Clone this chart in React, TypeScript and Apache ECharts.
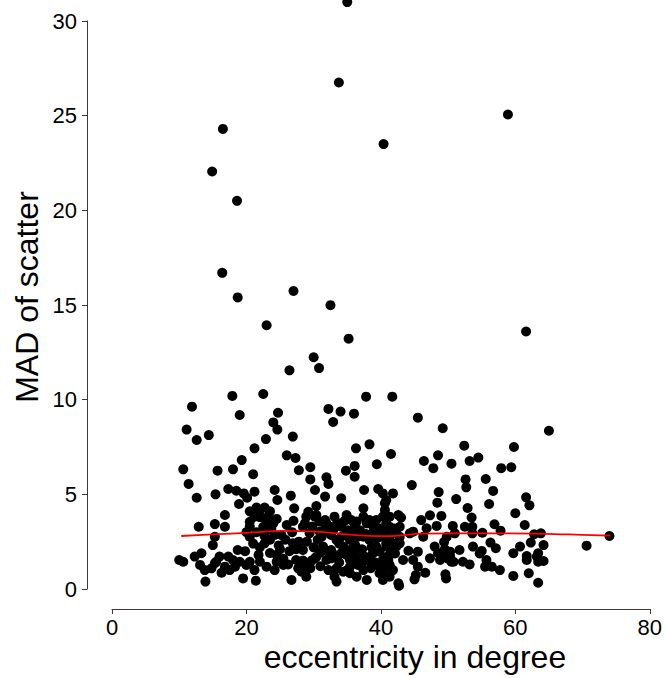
import React, { useEffect, useRef } from 'react';
import * as echarts from 'echarts';

const xTicks = [0, 20, 40, 60, 80];
const yTicks = [0, 5, 10, 15, 20, 25, 30];
const xTitle = 'eccentricity in degree';
const yTitle = 'MAD of scatter';

// [eccentricity, MAD]
const outlierPoints: number[][] = [
  [35.0, 31.0], [33.75, 26.75], [58.9, 25.06], [16.5, 24.3], [40.4, 23.5], [14.9, 22.05],
  [18.6, 20.5], [16.4, 16.7], [18.7, 15.4], [27.0, 15.74], [32.5, 14.99], [23.0, 13.93],
  [35.2, 13.22], [61.6, 13.6], [30.0, 12.24], [30.8, 11.67], [26.4, 11.55],
];

const upperLeftPoints: number[][] = [
  [11.9, 9.63], [17.9, 10.2], [22.5, 10.3], [19.0, 9.19], [24.7, 9.31], [24.0, 8.8], [24.6, 8.42],
  [11.1, 8.42], [12.6, 7.87], [14.4, 8.13], [22.9, 7.92], [26.9, 8.05], [21.2, 7.43], [19.3, 6.81],
  [26.0, 7.06], [27.3, 6.92], [10.6, 6.32], [15.7, 6.25], [18.0, 6.32], [21.0, 6.06], [27.8, 6.27],
  [29.5, 6.43], [11.4, 5.55], [29.5, 5.79], [31.9, 5.9], [32.2, 5.55], [12.6, 4.82], [15.4, 5.0],
  [17.3, 5.28], [18.5, 5.19], [19.6, 5.05], [20.1, 4.82], [21.2, 5.14], [18.9, 4.49], [24.2, 5.23],
  [24.6, 4.7], [26.6, 4.93], [27.1, 4.26], [30.2, 5.23], [30.4, 4.38], [31.7, 4.88], [34.1, 4.79],
  [34.8, 6.25], [36.1, 6.5], [36.1, 5.93], [36.3, 7.43], [38.3, 7.64], [39.4, 6.59], [41.5, 7.13],
  [32.2, 9.51], [34.0, 9.37], [36.0, 9.26], [32.9, 8.82], [37.8, 10.16], [41.7, 10.16], [37.5, 5.23],
  [39.6, 5.28], [12.9, 3.29], [15.3, 3.43], [16.8, 3.91], [16.8, 3.29],
];

const lowerLeftPoints: number[][] = [
  [10.6, 1.44], [10.0, 1.53], [12.3, 1.71], [13.3, 1.89], [13.1, 1.27], [13.8, 1.0], [13.9, 0.39],
  [14.8, 1.09], [15.5, 1.44], [16.3, 0.86], [15.0, 2.32], [15.3, 2.76], [17.3, 1.71], [18.7, 2.06],
  [19.0, 1.44], [19.5, 0.56], [20.5, 2.76], [21.2, 1.0], [21.4, 0.44], [20.5, 3.55], [21.2, 3.82],
  [21.9, 4.08], [22.5, 3.29], [22.7, 2.41], [23.2, 3.82], [24.0, 3.47], [24.5, 1.8], [24.5, 1.44],
  [25.2, 2.85], [26.0, 3.38], [26.7, 0.48], [26.9, 2.41], [27.4, 1.53], [28.4, 2.06], [28.7, 3.47],
  [28.7, 0.91], [28.9, 3.82], [29.4, 2.94], [30.2, 1.62], [30.4, 3.91], [30.9, 3.03], [31.4, 2.24],
  [31.7, 3.64], [32.4, 3.29], [32.6, 1.62], [33.1, 0.65], [33.4, 0.39], [33.4, 2.59], [34.4, 2.24],
  [34.9, 3.91], [35.4, 1.53], [35.4, 1.18], [36.1, 3.29], [36.4, 2.06], [36.6, 2.76], [37.4, 4.26],
  [37.6, 1.71], [37.9, 0.48], [38.3, 3.64], [38.9, 3.03], [39.3, 2.24], [39.8, 1.18], [40.3, 0.48],
  [40.6, 4.17], [40.8, 4.7], [41.3, 3.29], [41.8, 1.89], [42.6, 0.3],
];

const denseCorePoints: number[][] = [
  [20.5, 4.1], [21.5, 4.3], [22.7, 4.3], [23.5, 4.1], [22.0, 3.8], [23.0, 3.6], [24.5, 3.7],
  [20.5, 3.3], [21.5, 3.0], [23.0, 3.1], [23.7, 3.2], [22.7, 2.8], [23.5, 2.6], [24.2, 2.85],
  [22.0, 2.2], [23.5, 1.9], [25.0, 2.1], [25.5, 1.6], [26.4, 2.0], [27.4, 2.1], [28.4, 1.5],
  [28.9, 1.3], [29.7, 1.5], [30.4, 1.7], [30.9, 1.9], [31.9, 1.53], [32.6, 2.06], [33.1, 1.8],
  [34.1, 1.88], [34.9, 1.8], [35.4, 2.06], [35.9, 1.53], [36.6, 1.27], [37.4, 1.44], [38.3, 1.53],
  [38.8, 1.88], [39.8, 1.97], [40.3, 1.53], [41.3, 1.27], [41.8, 1.0], [42.3, 2.24], [42.8, 2.76],
  [28.4, 3.29], [29.2, 4.08], [30.2, 3.82], [30.9, 3.56], [31.9, 3.47], [33.1, 3.82], [34.1, 3.29],
  [34.9, 2.94], [35.6, 3.64], [36.4, 3.56], [37.4, 3.82], [37.9, 3.47], [39.3, 3.64], [40.3, 3.82],
  [41.3, 3.82], [42.6, 3.91], [40.3, 2.76], [40.8, 2.41], [37.4, 2.76], [38.3, 2.59], [35.4, 2.59],
  [34.1, 2.76], [32.6, 2.85], [31.2, 2.76], [33.4, 1.09], [34.4, 0.91], [35.4, 0.83], [36.4, 0.65],
  [37.4, 1.0], [39.8, 0.83], [40.3, 1.09], [41.3, 0.65], [18.0, 1.53], [18.3, 1.18], [20.0, 1.27],
  [20.5, 1.44], [22.0, 1.44], [23.0, 1.18], [24.2, 1.0], [25.5, 1.27], [27.7, 1.09], [28.2, 0.91],
  [28.9, 0.65], [15.3, 1.36], [16.0, 1.71], [16.8, 1.18], [17.5, 1.0],
];

const denseCoreExtraPoints: number[][] = [
  [29.0, 2.5], [29.8, 3.3], [30.6, 2.6], [31.5, 3.1], [32.0, 2.0], [32.9, 3.1], [33.5, 3.5],
  [33.8, 2.4], [34.6, 3.6], [35.1, 3.1], [35.8, 2.9], [36.2, 2.3], [36.9, 3.1], [37.2, 2.1],
  [37.8, 2.9], [38.6, 2.2], [38.9, 3.3], [39.5, 2.7], [39.9, 3.2], [40.7, 3.0], [41.5, 2.0],
  [42.0, 3.2], [30.0, 2.2], [31.0, 1.2], [32.2, 1.0], [33.8, 1.4], [35.0, 1.0], [36.0, 1.8],
  [37.0, 1.6], [38.5, 1.1], [39.2, 1.4], [40.9, 1.7], [29.5, 1.1], [27.8, 2.5], [26.8, 3.0],
  [27.0, 3.6], [25.8, 2.6], [26.2, 1.3], [24.8, 2.3], [21.0, 2.4], [21.8, 1.8], [19.8, 2.0],
  [20.0, 3.0], [49.5, 2.1], [50.0, 1.6], [48.5, 1.9],
];

const rightPoints: number[][] = [
  [45.5, 9.05], [49.2, 8.49], [65.0, 8.36], [52.4, 7.57], [59.8, 7.5], [46.4, 6.76], [48.5, 7.06],
  [50.5, 6.62], [53.2, 6.76], [54.5, 6.94], [47.8, 6.38], [57.9, 6.38], [59.4, 6.43], [52.6, 5.79],
  [52.7, 5.37], [55.6, 5.81], [44.6, 5.49], [48.6, 5.12], [56.7, 5.18], [51.2, 4.75], [61.6, 4.84],
  [62.1, 4.42], [48.4, 4.56], [56.1, 4.49], [52.9, 4.28], [60.0, 4.0], [53.5, 3.77], [43.0, 3.77],
  [47.3, 3.89], [49.0, 3.86], [46.0, 3.64], [61.4, 3.38], [56.9, 3.42], [48.3, 3.33], [50.7, 3.33],
  [53.6, 3.29], [57.8, 3.08], [46.8, 3.21], [55.1, 2.97], [53.6, 2.94], [62.8, 2.89], [63.8, 2.94],
  [74.0, 2.8], [70.6, 2.29], [64.2, 2.32], [62.3, 2.45], [49.4, 2.48], [53.7, 2.24], [56.3, 2.45],
  [57.1, 2.15], [55.0, 2.01], [59.7, 1.89], [61.7, 1.74], [63.4, 1.89], [63.4, 1.44], [64.2, 1.48],
  [44.1, 2.02], [45.5, 1.97], [47.3, 1.62], [49.0, 1.8], [49.8, 1.8], [50.3, 1.97], [50.5, 1.44],
  [52.2, 1.44], [53.2, 1.3], [55.5, 1.18], [56.5, 1.18], [57.7, 1.0], [59.7, 0.69], [62.0, 0.83],
  [63.4, 0.33], [46.6, 0.86], [45.2, 0.74], [45.0, 0.51], [49.6, 0.78], [49.7, 0.56], [42.7, 0.17],
  [40.4, 0.99], [41.1, 1.53], [41.8, 2.41], [42.8, 2.41], [42.3, 2.94], [42.8, 3.29], [44.3, 2.94],
  [44.8, 3.03], [46.3, 2.76], [40.6, 4.53], [40.3, 5.05], [41.8, 5.05],
  [49.3, 1.88], [50.3, 1.71], [48.8, 1.53], [50.8, 1.44], [40.8, 3.47], [41.3, 2.76], [40.8, 2.24],
  [42.1, 1.88], [41.3, 1.18], [40.6, 0.65], [43.3, 1.53], [44.8, 1.53], [45.5, 1.18], [48.0, 2.24],
  [51.7, 2.06], [52.5, 3.29], [49.8, 2.76], [51.0, 2.94], [54.7, 1.88], [55.7, 1.53], [61.7, 1.53],
  [63.2, 1.71], [60.7, 2.24],
];

const smoothX = [10.3, 15, 20.5, 25.5, 30.4, 35.4, 40.3, 42.8, 45.8, 50, 54.7, 62.7, 68, 74.1];
const smoothY = [2.8, 2.88, 2.98, 3.07, 3.03, 2.87, 2.79, 2.82, 2.92, 2.94, 2.94, 2.92, 2.88, 2.82];

export default function App() {
  const ref = useRef<HTMLDivElement>(null);
  useEffect(() => {
    document.body.style.margin = '0';
    const chart = echarts.init(ref.current as HTMLDivElement, null, { renderer: 'svg' });
    const font = "'Liberation Sans', Arial, Helvetica, sans-serif";
    const axisColor = '#3a3a3a';
    const allPoints = [
      ...outlierPoints,
      ...upperLeftPoints,
      ...lowerLeftPoints,
      ...denseCorePoints,
      ...denseCoreExtraPoints,
      ...rightPoints,
    ];
    chart.setOption({
      animation: false,
      backgroundColor: '#ffffff',
      grid: { left: 112, right: 15, top: 21, bottom: 89 },
      xAxis: {
        type: 'value',
        min: xTicks[0],
        max: xTicks[xTicks.length - 1],
        interval: xTicks[1] - xTicks[0],
        offset: 20,
        axisLine: { show: true, onZero: false, lineStyle: { color: axisColor, width: 1 } },
        axisTick: { show: true, length: 5, lineStyle: { color: axisColor, width: 1 } },
        axisLabel: { color: '#000', fontSize: 22, fontFamily: font, margin: 7 },
        splitLine: { show: false },
      },
      yAxis: {
        type: 'value',
        min: yTicks[0],
        max: yTicks[yTicks.length - 1],
        interval: yTicks[1] - yTicks[0],
        offset: 25,
        axisLine: { show: true, onZero: false, lineStyle: { color: axisColor, width: 1 } },
        axisTick: { show: true, length: 5, lineStyle: { color: axisColor, width: 1 } },
        axisLabel: { color: '#000', fontSize: 22, fontFamily: font, margin: 10 },
        splitLine: { show: false },
      },
      series: [
        {
          type: 'scatter',
          data: allPoints,
          symbol: 'circle',
          symbolSize: 10,
          clip: false,
          itemStyle: { color: '#000', opacity: 1 },
        },
        {
          type: 'line',
          data: smoothX.map((x, i) => [x, smoothY[i]]),
          smooth: 0.4,
          showSymbol: false,
          symbol: 'none',
          lineStyle: { color: '#ff0000', width: 1.8 },
          z: 3,
        },
      ],
      graphic: [
        {
          type: 'text',
          x: 415,
          y: 657,
          style: {
            text: xTitle,
            fontSize: 32,
            fontFamily: font,
            fill: '#000',
            align: 'center',
            verticalAlign: 'middle',
          },
        },
        {
          type: 'text',
          x: 27,
          y: 297,
          rotation: Math.PI / 2,
          style: {
            text: yTitle,
            fontSize: 32,
            fontFamily: font,
            fill: '#000',
            align: 'center',
            verticalAlign: 'middle',
          },
        },
      ],
    });
    return () => chart.dispose();
  }, []);
  return (
    <div
      ref={ref}
      style={{ position: 'absolute', left: 0, top: 0, width: 665, height: 678 }}
    />
  );
}
